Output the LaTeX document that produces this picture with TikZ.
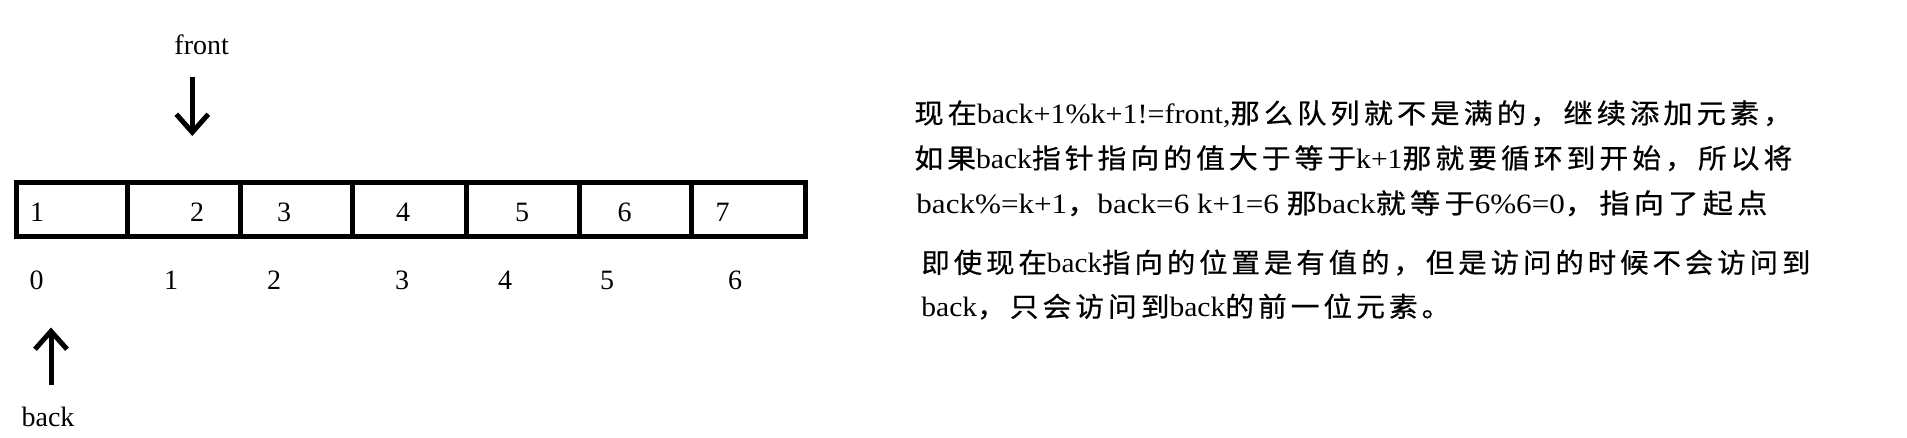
\documentclass[tikz,border=0pt]{standalone}
\usepackage{fontspec}
\usepackage{graphicx}
\setmainfont{Liberation Serif}
\newfontfamily\cjkfont[LetterSpace=14,FakeBold=0.6]{Noto Sans CJK SC}
\usetikzlibrary{arrows.meta}
\newcommand\zh[1]{{\cjkfont\fontsize{13.6}{15}\selectfont #1}}
\newcommand\fitline[2]{\resizebox{#1}{\height}{#2}}
\tikzset{
  cell/.style={draw, line width=2.5pt, minimum height=27.25pt, minimum width=#1, inner sep=0pt},
  num/.style={anchor=base, inner sep=0pt, font=\fontsize{14}{16}\selectfont},
  txt/.style={anchor=base west, inner sep=0pt, font=\fontsize{14}{16}\selectfont},
  ptr/.style={line width=2.5pt, -{Straight Barb[length=9pt,width=16pt,line cap=butt]}}
}
\begin{document}
\begin{tikzpicture}[x=0.5pt,y=-0.5pt]
\useasboundingbox (0,0) rectangle (1907,438);
% cells
\node[cell=55.25pt] (c1) at (71.75,209.75) {};
\node[cell=56.5pt]  (c2) at (183.5,209.75) {};
\node[cell=56pt]    (c3) at (296,209.75) {};
\node[cell=57pt]    (c4) at (409,209.75) {};
\node[cell=56.5pt]  (c5) at (522.5,209.75) {};
\node[cell=56pt]    (c6) at (635,209.75) {};
\node[cell=57pt]    (c7) at (748,209.75) {};
% values
\node[num] (v1) at (37,221.7) {1};
\node[num] (v2) at (197,221.7) {2};
\node[num] (v3) at (284,221.7) {3};
\node[num] (v4) at (403,221.7) {4};
\node[num] (v5) at (522,221.7) {5};
\node[num] (v6) at (624.5,221.7) {6};
\node[num] (v7) at (722.5,221.7) {7};
% indices
\node[num] (i0) at (36.6,290) {0};
\node[num] (i1) at (171,290) {1};
\node[num] (i2) at (274,290) {2};
\node[num] (i3) at (402,290) {3};
\node[num] (i4) at (505,290) {4};
\node[num] (i5) at (607,290) {5};
\node[num] (i6) at (735,290) {6};
% pointers
\node[num] (front) at (201.7,54.3) {front};
\node[num] (back) at (48,426.7) {back};
\coordinate (fs) at (192.3,76.7);
\coordinate (fe) at (192.3,136);
\coordinate (bs) at (51,385);
\coordinate (be) at (51,327.5);
\draw[ptr] (fs) -- (fe);
\draw[ptr] (bs) -- (be);
% text
\node[txt] (l1) at (914,123.3) {\fitline{439pt}{\zh{现在}back+1\%k+1!=front,\zh{那么队列就不是满的，继续添加元素，}}};
\node[txt] (l2) at (914,168.3) {\fitline{439pt}{\zh{如果}back\zh{指针指向的值大于等于}k+1\zh{那就要循环到开始，所以将}}};
\node[txt] (l3) at (916,213.3) {\fitline{425.5pt}{back\%=k+1\zh{，}back=6 k+1=6 \zh{那}back\zh{就等于}6\%6=0\zh{，指向了起点}}};
\node[txt] (l4) at (921,272.7) {\fitline{444.5pt}{\zh{即使现在}back\zh{指向的位置是有值的，但是访问的时候不会访问到}}};
\node[txt] (l5) at (921,316.7) {\fitline{264.5pt}{back\zh{，只会访问到}back\zh{的前一位元素。}}};
\end{tikzpicture}
\end{document}
